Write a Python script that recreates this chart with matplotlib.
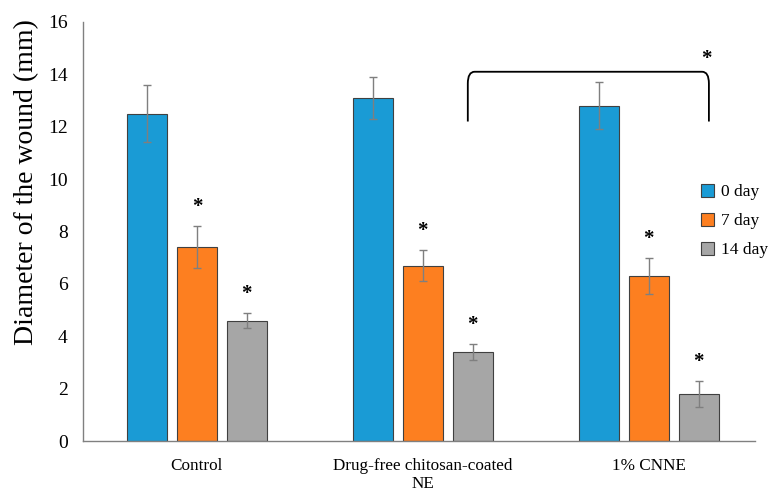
import matplotlib
matplotlib.use("Agg")
import matplotlib.pyplot as plt
import numpy as np
from matplotlib.path import Path
from matplotlib.patches import PathPatch

# Data
groups = ["Control", "Drug-free chitosan-coated\nNE", "1% CNNE"]
series = ["0 day", "7 day", "14 day"]
means = {
    "0 day": [12.5, 13.1, 12.8],
    "7 day": [7.4, 6.7, 6.3],
    "14 day": [4.6, 3.4, 1.8],
}
errors = {
    "0 day": [1.1, 0.8, 0.9],
    "7 day": [0.8, 0.6, 0.7],
    "14 day": [0.3, 0.3, 0.5],
}
significant = {
    "0 day": [False, False, False],
    "7 day": [True, True, True],
    "14 day": [True, True, True],
}
colors = ["#1a9bd5", "#fd7f20", "#a6a6a6"]

plt.rcParams["font.family"] = ["Liberation Serif", "DejaVu Serif"]

fig = plt.figure(figsize=(7.69, 4.95), dpi=100)
ax = fig.add_axes([83 / 769, 1 - 441 / 495, 672 / 769, 419 / 495])

x = np.arange(len(groups))
width = 0.177
offset = 0.221

for i, name in enumerate(series):
    pos = x + (i - 1) * offset
    ax.bar(pos, means[name], width, color=colors[i], edgecolor="#404040",
           linewidth=0.8, label=name, zorder=2)
    ax.errorbar(pos, means[name], yerr=errors[name], fmt="none",
                ecolor="#7f7f7f", elinewidth=1.0, capsize=3, capthick=1.0,
                zorder=3)
    for p, m, e, s in zip(pos, means[name], errors[name], significant[name]):
        if s:
            ax.text(p, m + e + 0.35, "*", ha="center", va="bottom",
                    fontsize=15, fontweight="bold")

# bracket between Drug-free and 1% CNNE groups
x0, x1 = 1.199, 2.266
ytop, ybot = 14.1, 12.2
r = 0.03
verts = [(x0, ybot), (x0, ytop - 0.45), (x0, ytop), (x0 + r, ytop),
         (x1 - r, ytop), (x1, ytop), (x1, ytop - 0.45), (x1, ybot)]
codes = [Path.MOVETO, Path.LINETO, Path.CURVE3, Path.CURVE3,
         Path.LINETO, Path.CURVE3, Path.CURVE3, Path.LINETO]
ax.add_patch(PathPatch(Path(verts, codes), fill=False, edgecolor="black",
                       linewidth=1.3, zorder=4))
ax.text(x1 - 0.01, ytop + 0.1, "*", ha="center", va="bottom", fontsize=15,
        fontweight="bold")

ax.set_xlim(-0.504, 2.47)
ax.set_ylim(0, 16)
ax.set_yticks(np.arange(0, 17, 2))
ax.set_xticks(x)
ax.set_xticklabels(groups, fontsize=12.3, linespacing=1.2)
ax.tick_params(axis="y", labelsize=14, length=0, pad=11)
ax.tick_params(axis="x", length=0, pad=12)
ax.set_ylabel("Diameter of the wound (mm)", fontsize=20)
ax.yaxis.set_label_coords(-0.066, 0.618)

for side in ["top", "right"]:
    ax.spines[side].set_visible(False)
for side in ["left", "bottom"]:
    ax.spines[side].set_color("#808080")
    ax.spines[side].set_linewidth(1.0)

ax.legend(loc="upper left", bbox_to_anchor=(0.91, 0.63), frameon=False,
          fontsize=12.5, handlelength=0.75, handleheight=0.75, handletextpad=0.35,
          labelspacing=0.72, borderaxespad=0)

fig.savefig("out.png", dpi=100)
